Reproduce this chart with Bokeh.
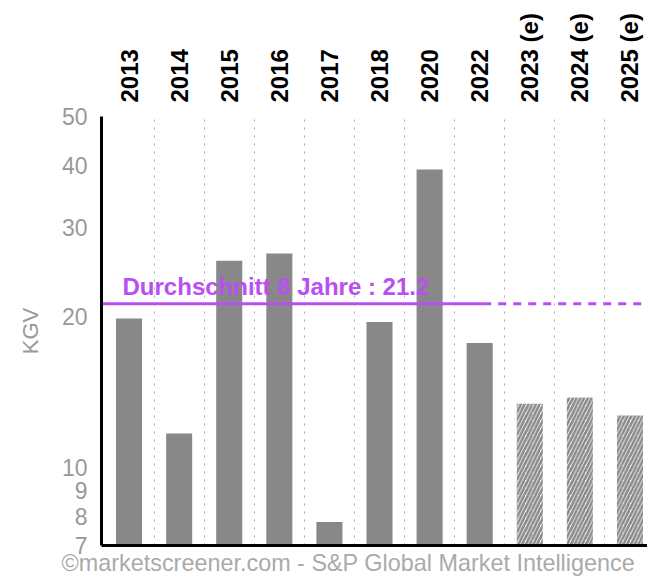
from math import pi
from bokeh.plotting import figure
from bokeh.models import (Range1d, FixedTicker, PrintfTickFormatter, LinearAxis,
                          Title, ColumnDataSource)
from bokeh.core.properties import value
from bokeh.embed import file_html
from bokeh.resources import INLINE

years = ["2013", "2014", "2015", "2016", "2017", "2018", "2020", "2022",
         "2023 (e)", "2024 (e)", "2025 (e)"]
kgv_actual = [19.8, 11.7, 25.8, 26.7, 7.8, 19.5, 39.2, 17.7]
kgv_estimate = [13.4, 13.8, 12.7]
average = 21.2
y_ticks = [7, 8, 9, 10, 20, 30, 40, 50]

FONT = "Liberation Sans"
PURPLE = "#b94ff2"
n_act = len(kgv_actual)

p = figure(width=647, height=579, output_backend="svg", toolbar_location=None,
           x_range=Range1d(-0.55, 10.35), y_range=Range1d(7, 50),
           y_axis_type="log", x_axis_location="above",
           min_border_left=101, min_border_top=116, min_border_right=0,
           min_border_bottom=34)
p.outline_line_color = None
p.background_fill_color = "white"
p.border_fill_color = "white"

act_src = ColumnDataSource(dict(x=list(range(n_act)), top=kgv_actual))
est_src = ColumnDataSource(dict(x=list(range(n_act, len(years))), top=kgv_estimate))

p.vbar(x="x", top="top", bottom=1, width=0.52, source=act_src,
       fill_color="#888888", line_color=None)
p.vbar(x="x", top="top", bottom=1, width=0.52, source=est_src,
       fill_color="white", line_color=None, hatch_pattern="/",
       hatch_color="#8a8a8a", hatch_scale=7.5, hatch_weight=2.6)

# average line: solid over actual years, dashed over estimates
p.line(x=[-0.55, n_act - 0.93], y=[average, average], line_color=PURPLE, line_width=3)
p.line(x=[n_act - 0.93, 10.35], y=[average, average], line_color=PURPLE,
       line_width=3, line_dash="8 7")
p.text(x=[-0.13], y=[average], text=[f"Durchschnitt {n_act} Jahre : {average}"],
       text_color=PURPLE, text_font=value(FONT), text_font_style="bold",
       text_font_size="24px", text_baseline="alphabetic", y_offset=-17)

# top axis with category labels
xa = p.xaxis[0]
xa.ticker = FixedTicker(ticks=list(range(len(years))))
xa.major_label_overrides = {i: y for i, y in enumerate(years)}
xa.major_label_orientation = pi / 2
xa.major_label_text_font = FONT
xa.major_label_text_font_style = "bold"
xa.major_label_text_font_size = "24px"
xa.major_label_text_color = "black"
xa.major_label_standoff = 8
xa.axis_line_color = None
xa.major_tick_line_color = None
xa.minor_tick_line_color = None

# bottom line
bx = LinearAxis(ticker=FixedTicker(ticks=[]), axis_line_color="black",
                axis_line_width=3, major_tick_line_color=None,
                minor_tick_line_color=None, major_label_text_font_size="0px",
                major_label_standoff=0)
p.add_layout(bx, "below")

# left log axis
ya = p.yaxis[0]
ya.ticker = FixedTicker(ticks=y_ticks)
ya.formatter = PrintfTickFormatter(format="%d")
ya.major_label_text_font = FONT
ya.major_label_text_font_size = "23px"
ya.major_label_text_color = "#999999"
ya.major_tick_line_color = None
ya.minor_tick_line_color = None
ya.axis_line_color = "black"
ya.axis_line_width = 3
ya.major_label_standoff = 8
ya.axis_label = "KGV"
ya.axis_label_text_font = FONT
ya.axis_label_text_font_style = "normal"
ya.axis_label_text_font_size = "22px"
ya.axis_label_text_color = "#999999"
ya.axis_label_standoff = 16

p.ygrid.visible = False
p.xgrid.ticker = FixedTicker(ticks=[i + 0.5 for i in range(len(years) - 1)])
p.xgrid.grid_line_color = "#aaaaaa"
p.xgrid.grid_line_dash = "2 6"
p.xgrid.grid_line_width = 1

p.add_layout(Title(text="©marketscreener.com - S&P Global Market Intelligence",
                   align="left", text_font=FONT, text_font_size="23.4px",
                   text_font_style="normal", text_color="#aaaaaa",
                   offset=-40, standoff=5), "below")

open("out.html", "w").write(file_html(p, INLINE))
